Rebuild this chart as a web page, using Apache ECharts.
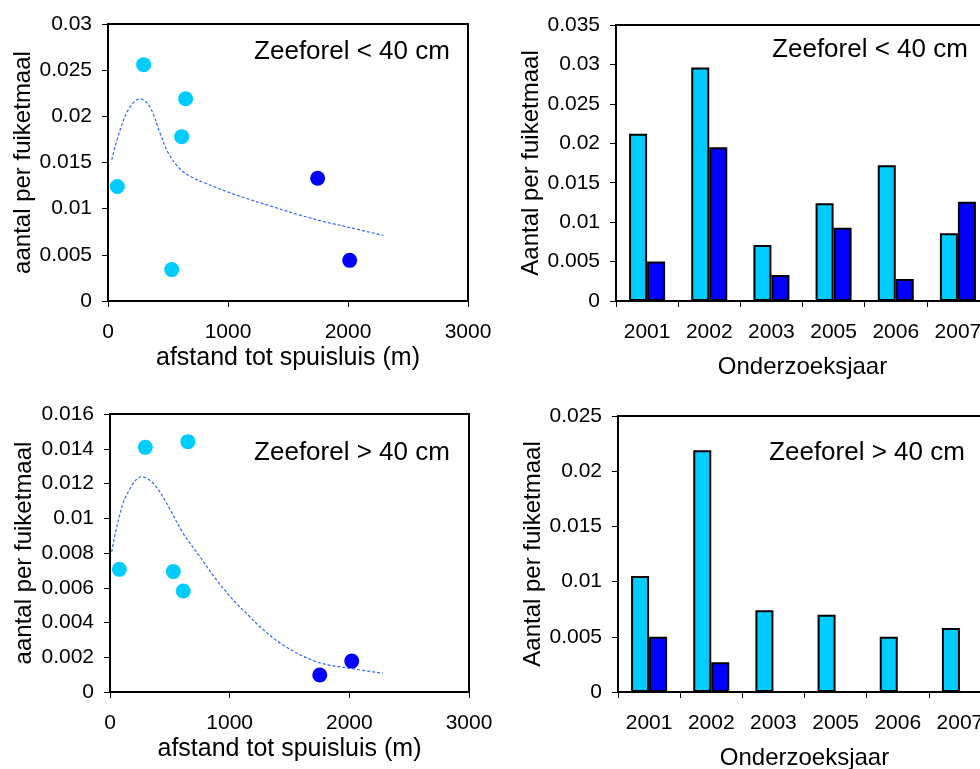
<!DOCTYPE html>
<html>
<head>
<meta charset="utf-8">
<script src="https://cdn.jsdelivr.net/npm/echarts@6/dist/echarts.min.js"></script>
<style>
html,body{margin:0;padding:0;background:#fff;overflow:hidden;}
#c{width:980px;height:769px;}
</style>
</head>
<body>
<div id="c"></div>
<script>
// ---- data ----
const years = ['2001', '2002', '2003', '2005', '2006', '2007'];

const smallNearX = [78, 297, 531, 614, 647];
const smallNearY = [0.0124, 0.0256, 0.0034, 0.0178, 0.0219];
const smallFarX = [1747, 2014];
const smallFarY = [0.0133, 0.0044];
const smallCurveX = [31, 100, 183, 267, 350, 433, 503, 600, 700, 822, 1000, 1156, 1400, 1600, 1800, 2000, 2294];
const smallCurveY = [0.0153, 0.0185, 0.0210, 0.0219, 0.0210, 0.0182, 0.0160, 0.0143, 0.0134, 0.0127, 0.0118, 0.0111, 0.0101, 0.0093, 0.0086, 0.0080, 0.0071];

const largeNearX = [78, 295, 529, 612, 651];
const largeNearY = [0.00706, 0.01408, 0.00693, 0.00581, 0.01441];
const largeFarX = [1753, 2020];
const largeFarY = [0.00098, 0.00178];
const largeCurveX = [14, 70, 139, 264, 362, 473, 612, 751, 890, 1029, 1169, 1252, 1447, 1725, 2004, 2282];
const largeCurveY = [0.00807, 0.0099, 0.01134, 0.01239, 0.01201, 0.01086, 0.00913, 0.00779, 0.00645, 0.0053, 0.00433, 0.00376, 0.0027, 0.00174, 0.00136, 0.00108];

const smallBarA = [0.0212, 0.0296, 0.0071, 0.0124, 0.0172, 0.0086];
const smallBarB = [0.0050, 0.0195, 0.0033, 0.0093, 0.0028, 0.0126];
const largeBarA = [0.0105, 0.0219, 0.0074, 0.0070, 0.0050, 0.0058];
const largeBarB = [0.0050, 0.0027, null, null, null, null];

const xTicks = [0, 1000, 2000, 3000];
const yTicksSmallScatter = [0, 0.005, 0.01, 0.015, 0.02, 0.025, 0.03];
const yTicksLargeScatter = [0, 0.002, 0.004, 0.006, 0.008, 0.01, 0.012, 0.014, 0.016];
const yTicksSmallBar = [0, 0.005, 0.01, 0.015, 0.02, 0.025, 0.03, 0.035];
const yTicksLargeBar = [0, 0.005, 0.01, 0.015, 0.02, 0.025];

const labelSmall = 'Zeeforel < 40 cm';
const labelLarge = 'Zeeforel > 40 cm';

// ---- helpers ----
const FONT = "'Liberation Sans', Arial, sans-serif";
const zip = (a, b) => a.map((v, i) => [v, b[i]]);
const fmt = v => String(+(+v).toFixed(4));

function valueY(idx, ticks, name, nameGap) {
  return {
    type: 'value', gridIndex: idx,
    min: ticks[0], max: ticks[ticks.length - 1], interval: ticks[1] - ticks[0],
    name: name, nameLocation: 'middle', nameGap: nameGap,
    nameTextStyle: { fontFamily: FONT, fontSize: 24, color: '#000' },
    axisLine: { show: true, lineStyle: { color: '#000', width: 2 } },
    axisTick: { show: true, inside: false, length: 6, lineStyle: { color: '#000', width: 1 } },
    axisLabel: { fontFamily: FONT, fontSize: 21, color: '#000', margin: 16, formatter: fmt },
    splitLine: { show: false }
  };
}
function distX(idx) {
  return {
    type: 'value', gridIndex: idx,
    min: xTicks[0], max: xTicks[xTicks.length - 1], interval: xTicks[1] - xTicks[0],
    name: 'afstand tot spuisluis (m)', nameLocation: 'middle', nameGap: 45,
    nameTextStyle: { fontFamily: FONT, fontSize: 25, color: '#000' },
    axisLine: { show: true, lineStyle: { color: '#000', width: 2 } },
    axisTick: { show: true, length: 6, lineStyle: { color: '#000', width: 1 } },
    axisLabel: { fontFamily: FONT, fontSize: 21, color: '#000', margin: 21, formatter: v => String(v) },
    splitLine: { show: false }
  };
}
function yearX(idx) {
  return {
    type: 'category', gridIndex: idx, data: years,
    name: 'Onderzoeksjaar', nameLocation: 'middle', nameGap: 54,
    nameTextStyle: { fontFamily: FONT, fontSize: 24, color: '#000' },
    axisLine: { show: true, lineStyle: { color: '#000', width: 2 } },
    axisTick: { show: true, length: 6, interval: 0, lineStyle: { color: '#000', width: 1 } },
    axisLabel: { fontFamily: FONT, fontSize: 21, color: '#000', margin: 21, interval: 0, hideOverlap: false },
    splitLine: { show: false }
  };
}
function scatterSeries(idx, xs, ys, color) {
  return {
    type: 'scatter', xAxisIndex: idx, yAxisIndex: idx,
    data: zip(xs, ys), symbol: 'circle', symbolSize: 15,
    itemStyle: { color: color, opacity: 1 }, silent: true, z: 3
  };
}
function curveSeries(idx, xs, ys) {
  return {
    type: 'line', xAxisIndex: idx, yAxisIndex: idx,
    data: zip(xs, ys), smooth: 0.35, showSymbol: false, symbol: 'none',
    lineStyle: { color: '#3366FF', width: 1.2, type: [3, 2] }, silent: true, z: 2
  };
}
function barSeries(idx, vals, color) {
  return {
    type: 'bar', xAxisIndex: idx, yAxisIndex: idx, data: vals,
    barWidth: 18, barGap: '0%',
    itemStyle: { color: color, borderColor: '#000', borderWidth: 2 },
    silent: true
  };
}
const gridBox = { show: true, borderColor: '#000', borderWidth: 2, backgroundColor: 'transparent', containLabel: false, outerBoundsMode: 'none' };
const annot = (x, y, text) => ({
  type: 'text', x: x, y: y,
  style: { text: text, fontFamily: FONT, fontSize: 26, fill: '#000', textAlign: 'center', textVerticalAlign: 'middle' }
});

const chart = echarts.init(document.getElementById('c'), null, { renderer: 'canvas' });
chart.setOption({
  animation: false,
  backgroundColor: '#fff',
  grid: [
    Object.assign({ left: 108, top: 24, width: 360, height: 277 }, gridBox),
    Object.assign({ left: 616, top: 25, width: 373, height: 276 }, gridBox),
    Object.assign({ left: 110, top: 414, width: 359, height: 278 }, gridBox),
    Object.assign({ left: 618, top: 416, width: 373, height: 276 }, gridBox)
  ],
  xAxis: [distX(0), yearX(1), distX(2), yearX(3)],
  yAxis: [
    valueY(0, yTicksSmallScatter, 'aantal per fuiketmaal', 72),
    valueY(1, yTicksSmallBar, 'Aantal per fuiketmaal', 66),
    valueY(2, yTicksLargeScatter, 'aantal per fuiketmaal', 74),
    valueY(3, yTicksLargeBar, 'Aantal per fuiketmaal', 68)
  ],
  series: [
    curveSeries(0, smallCurveX, smallCurveY),
    scatterSeries(0, smallNearX, smallNearY, '#00CCFF'),
    scatterSeries(0, smallFarX, smallFarY, '#0000FF'),
    barSeries(1, smallBarA, '#00CCFF'),
    barSeries(1, smallBarB, '#0000FF'),
    curveSeries(2, largeCurveX, largeCurveY),
    scatterSeries(2, largeNearX, largeNearY, '#00CCFF'),
    scatterSeries(2, largeFarX, largeFarY, '#0000FF'),
    barSeries(3, largeBarA, '#00CCFF'),
    barSeries(3, largeBarB, '#0000FF')
  ],
  graphic: [
    annot(352, 52, labelSmall),
    annot(870, 50, labelSmall),
    annot(352, 453, labelLarge),
    annot(867, 453, labelLarge)
  ]
});
</script>
</body>
</html>
